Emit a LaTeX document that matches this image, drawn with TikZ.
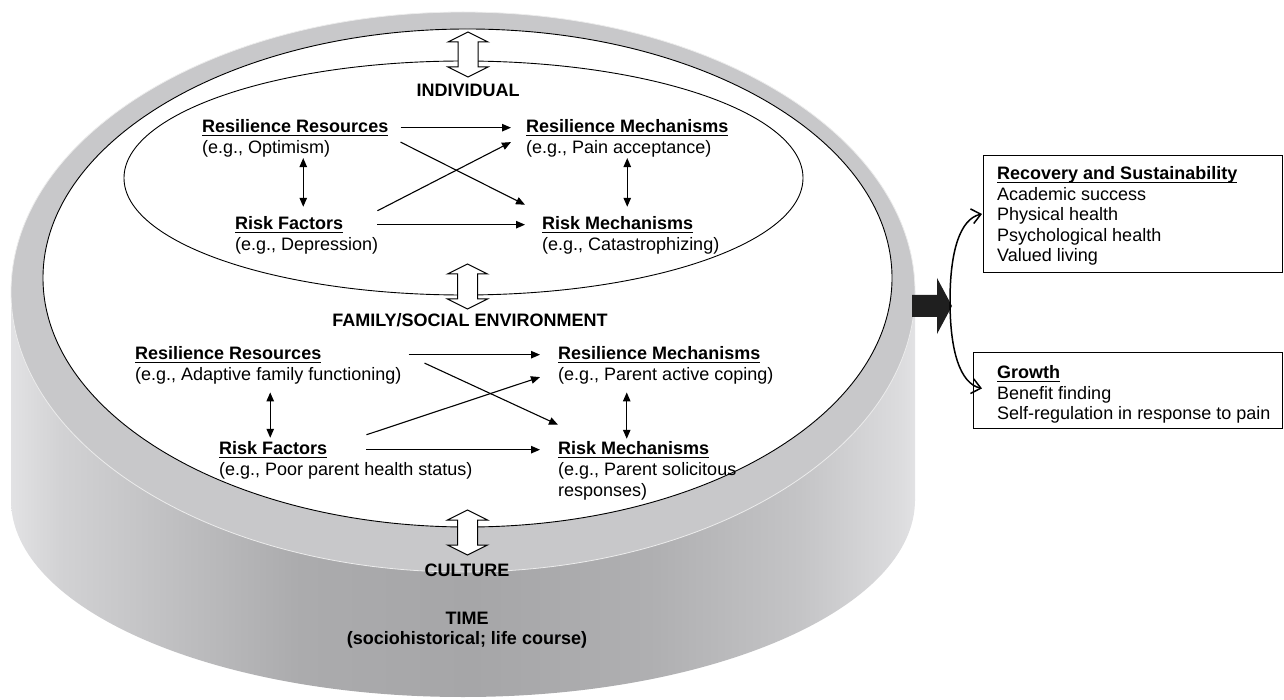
\documentclass[tikz,border=0pt]{standalone}
\usepackage{fontspec}
\setmainfont{Liberation Sans}
\usetikzlibrary{arrows.meta, positioning, calc}

\definecolor{rimgray}{HTML}{C8C8CA}
\definecolor{wallA}{HTML}{E2E2E4}
\definecolor{wallB}{HTML}{D2D2D4}
\definecolor{wallC}{HTML}{C3C3C5}
\definecolor{wallD}{HTML}{ABABAD}
\definecolor{wallE}{HTML}{A6A6A8}
\definecolor{wallF}{HTML}{AFAFB1}
\definecolor{wallG}{HTML}{C4C4C6}
\definecolor{wallH}{HTML}{DCDCDE}
\pgfdeclarehorizontalshading{wallshade}{100bp}{color(0bp)=(wallA); color(25bp)=(wallA);
  color(27.7bp)=(wallB); color(32.7bp)=(wallC); color(41bp)=(wallD); color(50.4bp)=(wallE);
  color(60.3bp)=(wallF); color(68.6bp)=(wallG); color(74.2bp)=(wallH); color(75bp)=(wallA);
  color(100bp)=(wallA)}

\newcommand\diagfont{\fontsize{18pt}{21pt}\selectfont}
\newcommand\ulhead[1]{\setbox0\hbox{\bfseries #1}\rlap{\rule[-3.4pt]{\wd0}{1.3pt}}\box0}

\tikzset{head/.style={anchor=base west, inner sep=0pt}}
\tikzset{eg/.style={anchor=base west, inner sep=0pt, align=left}}
\tikzset{tier/.style={font=\fontsize{18pt}{20pt}\selectfont\bfseries, align=center, inner sep=0pt}}
\tikzset{link/.style={-{Triangle[length=9pt,width=7.5pt]}, line width=1.1pt}}
\tikzset{twoway/.style={{Triangle[length=9pt,width=7.5pt]}-{Triangle[length=9pt,width=7.5pt]}, line width=1.1pt}}
\tikzset{outbox/.style={draw, line width=0.9pt, anchor=north west, inner sep=0pt}}
\tikzset{boxtext/.style={anchor=north west, inner sep=0pt, align=left, font=\fontsize{18pt}{20.5pt}\selectfont}}
\tikzset{outcurve/.style={{Straight Barb[length=9pt,width=15pt]}-{Straight Barb[length=9pt,width=15pt]}, line width=1.5pt}}
\tikzset{tierarrow/.pic={
  \filldraw[fill=white, line width=1pt] (0,-22.5) -- (20,-12.5) -- (10,-12.5) -- (10,12.5) -- (20,12.5)
    -- (0,22.5) -- (-20,12.5) -- (-10,12.5) -- (-10,-12.5) -- (-20,-12.5) -- cycle;}}

\begin{document}
\begin{tikzpicture}[x=1pt, y=-1pt, font=\diagfont]
\useasboundingbox (0,0) rectangle (1284,700);

% the disc
\shade[shading=wallshade] (11,292) rectangle (915,500);
\shade[shading=wallshade] (463,500) ellipse [x radius=452, y radius=197];
\filldraw[fill=rimgray, draw=gray!15, line width=0.8pt] (463,292) ellipse [x radius=452, y radius=280];
\filldraw[fill=white, line width=0.9pt] (467.5,278) ellipse [x radius=424.5, y radius=249];
\draw[line width=0.9pt] (463.5,178) ellipse [x radius=339.5, y radius=117];

\pic (upA) at (468,54.5) {tierarrow};
\pic (upB) at (467.5,286.5) {tierarrow};
\pic (upC) at (467.5,532.5) {tierarrow};

\node[tier] (indiv) at (468,90) {INDIVIDUAL};
\node[tier] (family) at (470,320) {FAMILY/SOCIAL ENVIRONMENT};
\node[tier] (culture) at (467,570) {CULTURE};
\node[tier] (time) at (467,630) {TIME\\(sociohistorical; life course)};

% individual
\node[head] (rr1) at (202,132.5) {\ulhead{Resilience Resources}};
\node[eg] (rr1ex) at ([yshift=-21pt]rr1.base west) {(e.g., Optimism)};
\node[head] (rm1) at (526,132.5) {\ulhead{Resilience Mechanisms}};
\node[eg] (rm1ex) at ([yshift=-21pt]rm1.base west) {(e.g., Pain acceptance)};
\node[head] (rf1) at (235,229.5) {\ulhead{Risk Factors}};
\node[eg] (rf1ex) at ([yshift=-21pt]rf1.base west) {(e.g., Depression)};
\node[head] (km1) at (542,229.5) {\ulhead{Risk Mechanisms}};
\node[eg] (km1ex) at ([yshift=-21pt]km1.base west) {(e.g., Catastrophizing)};

\draw[link] ($(rr1.east)+(12,0)$) -- ($(rm1.west)+(-15,0)$);
\draw[link] ($(rr1.south east)+(12,6)$) -- ($(km1.north west)+(-17,-11.5)$);
\draw[link] ($(rf1.north east)+(34,-5.5)$) -- ($(rm1.south west)+(-15,6)$);
\draw[link] ($(rf1.east)+(34,0)$) -- ($(km1.west)+(-17,0)$);
\draw[twoway] ($(rr1.south)+(8,22)$) -- ($(rr1.south |- rf1.north)+(8,-9.5)$);
\draw[twoway] ($(rm1.south)+(0,22)$) -- ($(rm1.south |- km1.north)+(0,-9.5)$);

% family / social environment
\node[head] (rr2) at (135,359.5) {\ulhead{Resilience Resources}};
\node[eg] (rr2ex) at ([yshift=-21pt]rr2.base west) {(e.g., Adaptive family functioning)};
\node[head] (rm2) at (558,359.5) {\ulhead{Resilience Mechanisms}};
\node[eg] (rm2ex) at ([yshift=-21pt]rm2.base west) {(e.g., Parent active coping)};
\node[head] (rf2) at (219,454.5) {\ulhead{Risk Factors}};
\node[eg] (rf2ex) at ([yshift=-21pt]rf2.base west) {(e.g., Poor parent health status)};
\node[head] (km2) at (558,454.5) {\ulhead{Risk Mechanisms}};
\node[eg] (km2ex) at ([yshift=-42pt]km2.base west) {(e.g., Parent solicitous\\responses)};

\draw[link] ($(rr2.east)+(87,0)$) -- ($(rm2.west)+(-18,0)$);
\draw[link] ($(rr2.south east)+(103,0)$) -- ($(km2.north west)+(0,-16.5)$);
\draw[link] ($(rf2.north east)+(39,-6.5)$) -- ($(rm2.south west)+(-18,14)$);
\draw[link] ($(rf2.east)+(39,0)$) -- ($(km2.west)+(-18,0)$);
\draw[twoway] ($(rf2.north |- rr2ex.south)+(-3,8)$) -- ($(rf2.north)+(-3,-3.5)$);
\draw[twoway] ($(km2.north |- rm2ex.south)+(-7,8)$) -- ($(km2.north)+(-7,-2.5)$);

% outcomes
\fill[black!88] (912,295) -- (937,295) -- (937,278) -- (952,306) -- (937,334) -- (937,317) -- (912,317) -- cycle;

\node[outbox, minimum width=299pt, minimum height=117pt] (recbox) at (983,155) {};
\node[boxtext] (rec) at ([xshift=14pt,yshift=-11.5pt]recbox.north west)
  {\ulhead{Recovery and Sustainability}\\Academic success\\Physical health\\Psychological health\\Valued living};
\node[outbox, minimum width=309pt, minimum height=76pt] (growthbox) at (973,352) {};
\node[boxtext] (growth) at ([xshift=24pt,yshift=-13.5pt]growthbox.north west)
  {\ulhead{Growth}\\Benefit finding\\Self-regulation in response to pain};

\coordinate (fork) at (950,301);
\draw[outcurve] ([xshift=-1pt]recbox.west) .. controls +(-22,5) and +(0,-50) .. (fork)
  .. controls +(0,50) and +(-22,-5) .. ([xshift=9pt,yshift=2pt]growthbox.west);
\end{tikzpicture}
\end{document}
